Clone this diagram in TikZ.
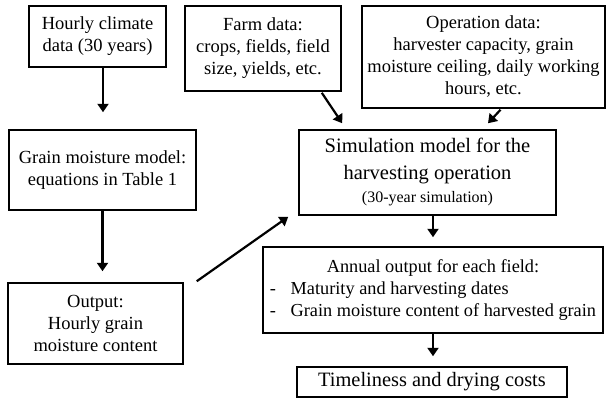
\documentclass[tikz,border=0pt]{standalone}
\usepackage{fontspec}
\setmainfont{Liberation Serif}
\usetikzlibrary{arrows.meta}
\tikzset{
  box/.style={draw, line width=1.5pt, inner sep=0pt, align=center, font=\fontsize{18.5}{22}\selectfont},
  arr/.style={line width=2.2pt, -{Triangle[width=11pt,length=8.5pt]}}
}
\begin{document}
\begin{tikzpicture}[x=1pt,y=-1pt]
\useasboundingbox (0,0) rectangle (608,407);
\node[box, minimum width=137pt, minimum height=61pt] (clim) at (97.5,36.5) {Hourly climate\\data (30 years)};
\node[box, minimum width=187pt, minimum height=80pt] (gmm) at (102.5,170) {Grain moisture model:\\equations in Table 1};
\node[box, minimum width=175pt, minimum height=81pt] (out) at (95.5,323.5) {Output:\\Hourly grain\\moisture content};
\node[box, minimum width=156pt, minimum height=85pt] (farm) at (263,48.5) {Farm data:\\crops, fields, field\\size, yields, etc.};
\node[box, minimum width=243pt, minimum height=102pt] (op) at (483.5,57) {Operation data:\\harvester capacity, grain\\moisture ceiling, daily working\\hours, etc.};
\node[box, minimum width=257pt, minimum height=85pt, font=\fontsize{20.5}{27}\selectfont] (sim) at (427.5,172.5) {Simulation model for the\\harvesting operation\\[-4pt]\fontsize{16}{18}\selectfont (30-year simulation)};
\node[box, minimum width=340pt, minimum height=86pt, font=\fontsize{18.3}{21.7}\selectfont] (ann) at (433,290) {\begin{tabular}{@{}l@{}}\multicolumn{1}{@{}c@{}}{Annual output for each field:}\\-\hspace{0.8em}Maturity and harvesting dates\\-\hspace{0.8em}Grain moisture content of harvested grain\end{tabular}};
\node[box, minimum width=270pt, minimum height=30pt, font=\fontsize{20.4}{24}\selectfont] (tim) at (432,382) {Timeliness and drying costs};

\draw[arr, shorten >=17pt] ([shift={(5.5,0)}]clim.south) -- ([shift={(5.5,0)}]clim.south |- gmm.north);
\draw[arr, shorten >=11pt] (gmm.south) -- (gmm.south |- out.north);
\draw[arr] ([shift={(13,-1)}]out.north east) -- ([shift={(-10,1)}]sim.south west);
\draw[arr] ([shift={(-20,1)}]farm.south east) -- ([shift={(44,-6)}]sim.north west);
\draw[arr] ([shift={(17,1)}]op.south) -- ([shift={(60.5,-6)}]sim.north);
\draw[arr, shorten >=9pt] (sim.south -| ann.north) -- (ann.north);
\draw[arr, shorten >=10pt] (ann.south) -- (ann.south |- tim.north);
\end{tikzpicture}
\end{document}
